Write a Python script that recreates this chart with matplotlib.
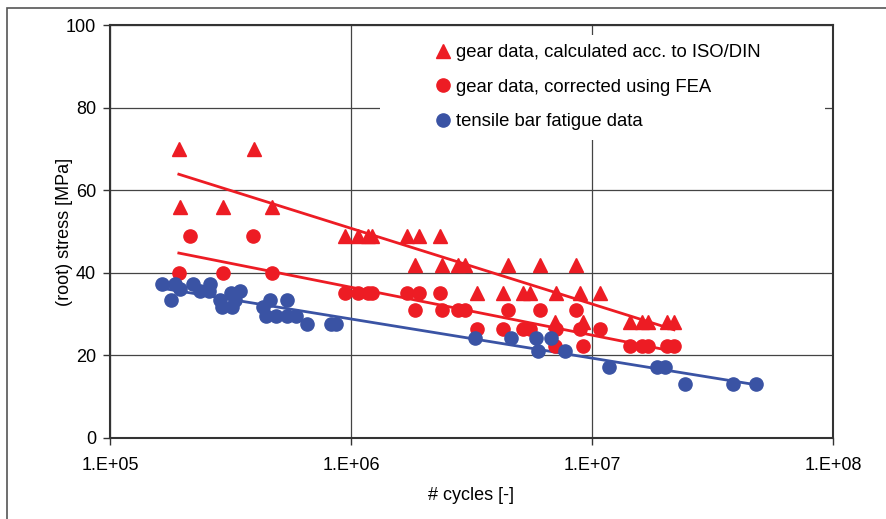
import numpy as np
import matplotlib
matplotlib.use("Agg")
import matplotlib.pyplot as plt
from matplotlib.patches import Rectangle

plt.rcParams['font.family'] = ['Liberation Sans', 'DejaVu Sans']

# ---- data ----
tri_N = [1.93e5, 3.96e5,
         1.95e5, 2.94e5, 4.70e5,
         9.44e5, 1.07e6, 1.18e6, 1.22e6, 1.71e6, 1.91e6, 2.34e6,
         1.85e6, 2.39e6, 2.78e6, 2.97e6, 4.48e6, 6.08e6, 8.59e6,
         3.34e6, 4.27e6, 5.17e6, 5.53e6, 7.10e6, 8.91e6, 1.08e7,
         7.02e6, 9.18e6, 1.44e7, 1.61e7, 1.71e7, 2.05e7, 2.19e7]
tri_S = [70, 70,
         56, 56, 56,
         49, 49, 49, 49, 49, 49, 49,
         42, 42, 42, 42, 42, 42, 42,
         35, 35, 35, 35, 35, 35, 35,
         28, 28, 28, 28, 28, 28, 28]

fea_N = [2.15e5, 3.92e5,
         1.93e5, 2.94e5, 4.70e5,
         9.44e5, 1.07e6, 1.18e6, 1.22e6, 1.71e6, 1.91e6, 2.34e6,
         1.85e6, 2.39e6, 2.78e6, 2.97e6, 4.48e6, 6.08e6, 8.59e6,
         3.34e6, 4.27e6, 5.17e6, 5.53e6, 7.10e6, 8.91e6, 1.08e7,
         7.02e6, 9.18e6, 1.44e7, 1.61e7, 1.71e7, 2.05e7, 2.19e7]
fea_S = [49, 49,
         40, 40, 40,
         35, 35, 35, 35, 35, 35, 35,
         31, 31, 31, 31, 31, 31, 31,
         26.4, 26.4, 26.4, 26.4, 26.4, 26.4, 26.4,
         22.3, 22.3, 22.3, 22.3, 22.3, 22.3, 22.3]

bar_N = [1.64e5, 1.79e5, 1.86e5, 1.95e5, 2.21e5, 2.36e5, 2.57e5, 2.60e5,
         2.86e5, 2.91e5, 3.18e5, 3.21e5, 3.30e5, 3.46e5, 4.31e5, 4.44e5,
         4.61e5, 4.88e5, 5.42e5, 5.42e5, 5.91e5, 6.57e5, 8.26e5, 8.67e5,
         3.27e6, 4.62e6, 5.86e6, 5.97e6, 6.76e6, 7.73e6, 1.18e7, 1.86e7,
         2.01e7, 2.43e7, 3.85e7, 4.79e7]
bar_S = [37.3, 33.4, 37.3, 36.1, 37.3, 35.6, 35.6, 37.3,
         33.4, 31.7, 35.1, 31.7, 33.4, 35.6, 31.7, 29.5,
         33.4, 29.5, 33.4, 29.5, 29.5, 27.6, 27.6, 27.6,
         24.2, 24.2, 24.2, 21.1, 24.2, 21.1, 17.2, 17.2,
         17.2, 13.1, 13.1, 13.1]

x_ticks = [1e5, 1e6, 1e7, 1e8]
x_labels = ["1.E+05", "1.E+06", "1.E+07", "1.E+08"]
y_ticks = [0, 20, 40, 60, 80, 100]

RED = "#ED1C24"
BLUE = "#3A53A4"
FS = 13

fig = plt.figure(figsize=(8.87, 5.19), dpi=100)
W, H = 887, 519
ax = fig.add_axes([110 / W, (H - 438) / H, 723 / W, 413 / H])

# outer frame
fig.patches.append(Rectangle((7 / W, -0.05), 1.1, 1 - 8 / H + 0.05,
                             transform=fig.transFigure, fill=False,
                             edgecolor="#555555", linewidth=1.2, zorder=0))

ax.set_xscale("log")
ax.set_xlim(1e5, 1e8)
ax.set_ylim(0, 100)


def log_fit(N, S):
    b, a = np.polyfit(np.log10(N), S, 1)
    xs = np.logspace(np.log10(min(N)), np.log10(max(N)), 100)
    return xs, a + b * np.log10(xs)


for N, S, c in [(tri_N, tri_S, RED), (fea_N, fea_S, RED), (bar_N, bar_S, BLUE)]:
    xs, ys = log_fit(N, S)
    ax.plot(xs, ys, color=c, lw=2, zorder=3)

ax.plot(tri_N, tri_S, ls="none", marker="^", ms=10, color=RED, mec=RED,
        label="gear data, calculated acc. to ISO/DIN", zorder=4)
ax.plot(fea_N, fea_S, ls="none", marker="o", ms=9.5, color=RED, mec=RED,
        label="gear data, corrected using FEA", zorder=4)
ax.plot(bar_N, bar_S, ls="none", marker="o", ms=9.5, color=BLUE, mec=BLUE,
        label="tensile bar fatigue data", zorder=4)

ax.set_xticks(x_ticks)
ax.set_xticklabels(x_labels)
ax.xaxis.set_minor_locator(matplotlib.ticker.NullLocator())
ax.set_yticks(y_ticks)
ax.tick_params(axis="both", direction="out", length=5, width=1, labelsize=FS,
               color="#333333", pad=5)
ax.tick_params(axis="x", pad=9)

ax.grid(True, which="major", color="#444444", lw=0.9, zorder=1)
ax.set_axisbelow(True)
for s in ax.spines.values():
    s.set_color("#333333")
    s.set_linewidth(1.5)

ax.set_xlabel("# cycles [-]", fontsize=FS, labelpad=9)
ax.set_ylabel("(root) stress [MPa]", fontsize=FS, labelpad=-5)

# white legend background covering grid lines
ax.add_patch(Rectangle(((380 - 110) / 723, (438 - 140) / 413),
                       (825 - 380) / 723, (140 - 35) / 413,
                       transform=ax.transAxes, facecolor="white",
                       edgecolor="none", zorder=2))

leg = ax.legend(loc="upper left",
                bbox_to_anchor=((437 - 110) / 723, (438 - 44) / 413),
                frameon=False, fontsize=13.3,
                handlelength=0.6, handletextpad=0.45, labelspacing=0.95,
                borderpad=0.0, borderaxespad=0)
leg.set_zorder(5)

fig.savefig("out.png", dpi=100)
